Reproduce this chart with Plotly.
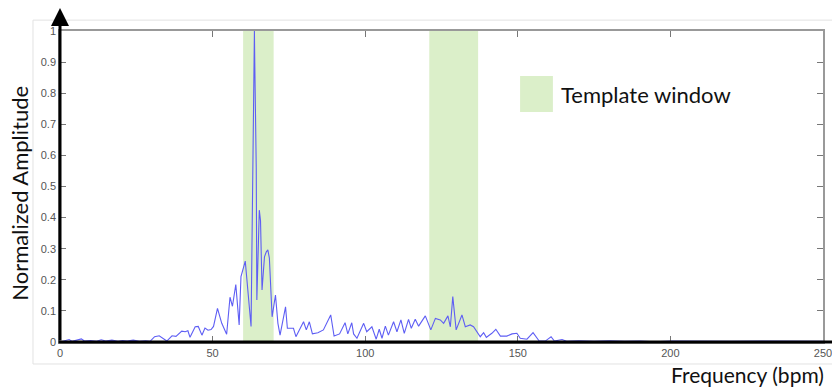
import plotly.graph_objects as go

freq = [0, 1.5, 3, 4, 5.5, 7, 8, 10, 12, 13.5, 15, 17, 19, 20.5, 22, 24, 26, 28, 29.5,
        31, 32.5, 34, 35, 36.7, 38, 39.9, 41, 41.9, 42.6, 44.3, 45.3, 46.5, 47.5, 48.5, 49.5,
        50.3, 51.6, 53, 54.6, 55.7, 56.5, 57.6, 58.7, 59.3, 60.7, 62.6, 63.1, 63.4, 63.7, 63.8,
        64.0, 64.3, 64.5, 65.3, 65.7, 66.2, 67.0, 67.6, 68.1, 68.6, 69.5, 70.6, 71.4, 72.1, 73.9,
        74.5, 76.5, 77.3, 79.8, 80.7, 81.7, 82.7, 84.5, 86.3, 88.7, 89.8, 91.6, 93.4, 94.3, 95.6,
        96.2, 97.3, 99.5, 100.5, 102.2, 103.6, 104.6, 105.5, 106.6, 107.6, 109.3, 110.4, 111.7,
        112.8, 114.2, 115.1, 116.4, 117.5, 119.7, 121.5, 123, 124.6, 125.7, 127.1, 127.9, 128.7,
        129.8, 131.7, 132.8, 134.4, 135.5, 137, 137.7, 138.8, 139.7, 140.4, 141.5, 142.8, 144.3,
        146.4, 148.1, 149.7, 150.8, 153, 155, 157, 159, 160.9, 162, 164.5, 166, 170, 175, 180,
        185, 190, 195, 200, 210, 220, 230, 240, 250]
amplitude = [0.0, 0.004, 0.008, 0.002, 0.006, 0.01, 0.003, 0.005, 0.002, 0.007, 0.003, 0.006,
             0.002, 0.005, 0.003, 0.006, 0.002, 0.004, 0.002,
             0.017, 0.02, 0.008, 0.003, 0.02, 0.018, 0.035, 0.033, 0.036, 0.015, 0.049, 0.05,
             0.022, 0.045, 0.038, 0.04,
             0.05, 0.108, 0.06, 0.025, 0.144, 0.115, 0.185, 0.055, 0.21, 0.26, 0.05, 0.53, 0.714,
             1.0, 0.91,
             0.74, 0.56, 0.135, 0.424, 0.39, 0.167, 0.274, 0.29, 0.296, 0.27, 0.081, 0.151, 0.06,
             0.022, 0.113,
             0.044, 0.044, 0.017, 0.065, 0.039, 0.065, 0.026, 0.03, 0.039, 0.087, 0.019, 0.026,
             0.062, 0.026, 0.062,
             0.026, 0.012, 0.06, 0.033, 0.049, 0.009, 0.041, 0.012, 0.051, 0.022, 0.065, 0.033,
             0.071,
             0.028, 0.073, 0.044, 0.073, 0.051, 0.084, 0.039, 0.076, 0.071, 0.06, 0.084, 0.049,
             0.146,
             0.039, 0.087, 0.049, 0.055, 0.049, 0.026, 0.017, 0.03, 0.015, 0.02, 0.028, 0.041,
             0.019,
             0.019, 0.026, 0.028, 0.012, 0.009, 0.03, 0.003, 0.003, 0.017, 0.003, 0.008, 0.002,
             0.004, 0.002, 0.004,
             0.002, 0.003, 0.001, 0.003, 0.002, 0.002, 0.003, 0.002, 0.002]

template_windows = [(60, 70), (121, 137)]
x_ticks = [0, 50, 100, 150, 200, 250]
y_ticks = [0, 0.1, 0.2, 0.3, 0.4, 0.5, 0.6, 0.7, 0.8, 0.9, 1]
y_tick_text = ["0", "0.1", "0.2", "0.3", "0.4", "0.5", "0.6", "0.7", "0.8", "0.9", "1"]

GREEN = "#dbefc9"
BLUE = "#5e5ef4"
TICKFONT = dict(family="Liberation Sans, Arial", size=11, color="#555555")
LABELFONT = dict(family="Lato, Open Sans", size=22, color="#111111")

fig = go.Figure()
fig.add_trace(go.Scatter(x=freq, y=amplitude, mode="lines",
                         line=dict(color=BLUE, width=1.1), showlegend=False,
                         hoverinfo="skip"))

shapes = []
# outer light frame
shapes.append(dict(type="rect", xref="paper", yref="paper", x0=-0.0354, x1=1.03,
                   y0=-0.0707, y1=1.035, line=dict(color="#e2e2e2", width=1),
                   fillcolor="rgba(0,0,0,0)", layer="below"))
for a, b in template_windows:
    shapes.append(dict(type="rect", xref="x", yref="paper", x0=a, x1=b, y0=0, y1=1,
                       fillcolor=GREEN, line=dict(width=0), layer="below"))
# legend swatch
shapes.append(dict(type="rect", xref="paper", yref="paper", x0=0.603, x1=0.646,
                   y0=0.7395, y1=0.855, fillcolor=GREEN, line=dict(width=0)))
# thick black x axis line
shapes.append(dict(type="line", xref="paper", yref="paper", x0=-0.002, x1=1.015,
                   y0=0, y1=0, line=dict(color="black", width=3)))

annotations = [
    # y axis arrow
    dict(xref="paper", yref="paper", x=0, y=1.074, ax=0, ay=334, axref="pixel",
         ayref="pixel", showarrow=True, arrowhead=2, arrowsize=1.2, arrowwidth=3,
         arrowcolor="black", text=""),
    dict(xref="paper", yref="paper", x=0.6545, y=0.797, xanchor="left", yanchor="middle",
         text="Template window", showarrow=False, font=LABELFONT),
    dict(xref="paper", yref="paper", x=-0.0525, y=0.48, xanchor="center", yanchor="middle",
         text="Normalized Amplitude", textangle=-90, showarrow=False, font=LABELFONT),
    dict(xref="paper", yref="paper", x=1.002, y=-0.103, xanchor="right", yanchor="middle",
         text="Frequency (bpm)", showarrow=False, borderpad=0,
         font=dict(family="Lato, Open Sans", size=21, color="#111111")),
]

fig.update_layout(
    width=832, height=389,
    margin=dict(l=60, r=9, t=31, b=47),
    paper_bgcolor="white", plot_bgcolor="white",
    shapes=shapes, annotations=annotations,
    xaxis=dict(range=[0, 250], tickvals=x_ticks, ticks="inside", ticklen=6,
               tickcolor="#777777", showline=True, linecolor="#999999", linewidth=1.5,
               mirror="ticks", showgrid=False, zeroline=False, tickfont=TICKFONT,
               automargin=False, ticklabeloverflow="allow"),
    yaxis=dict(range=[0, 1], tickvals=y_ticks, ticktext=y_tick_text, ticks="inside",
               ticklen=6, tickcolor="#777777", showline=True, linecolor="#999999",
               linewidth=1.5, mirror="ticks", showgrid=False, zeroline=False,
               tickfont=TICKFONT, automargin=False, ticklabeloverflow="allow"),
)

fig.write_html("out.html")
